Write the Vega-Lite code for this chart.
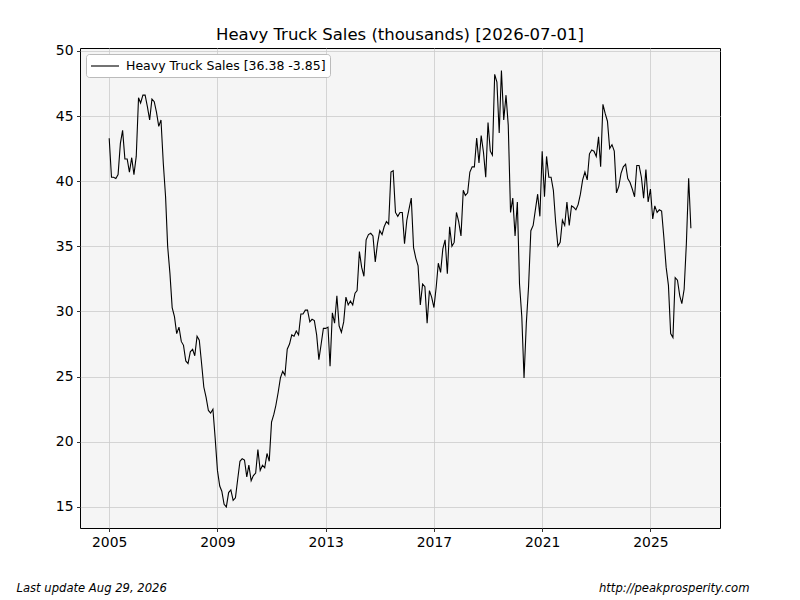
{
  "$schema": "https://vega.github.io/schema/vega-lite/v6.json",
  "description": "Heavy truck sales, monthly, in thousands (values read off the reference chart).",
  "width": 640,
  "height": 480,
  "autosize": "none",
  "padding": {"left": 80, "top": 48, "right": 80, "bottom": 72},
  "background": "white",
  "title": {
    "text": "Heavy Truck Sales (thousands) [2026-07-01]",
    "font": "DejaVu Sans",
    "fontSize": 16.5,
    "fontWeight": "normal",
    "color": "black",
    "offset": 0
  },
  "data": {
    "values": [
      {"d": "2005-01-01", "v": 43.3}, {"d": "2005-02-01", "v": 40.3}, {"d": "2005-03-01", "v": 40.3}, {"d": "2005-04-01", "v": 40.2},
      {"d": "2005-05-01", "v": 40.5}, {"d": "2005-06-01", "v": 42.9}, {"d": "2005-07-01", "v": 43.9}, {"d": "2005-08-01", "v": 41.7},
      {"d": "2005-09-01", "v": 41.7}, {"d": "2005-10-01", "v": 40.7}, {"d": "2005-11-01", "v": 41.8}, {"d": "2005-12-01", "v": 40.5},
      {"d": "2006-01-01", "v": 41.9}, {"d": "2006-02-01", "v": 46.4}, {"d": "2006-03-01", "v": 46.0}, {"d": "2006-04-01", "v": 46.6},
      {"d": "2006-05-01", "v": 46.6}, {"d": "2006-06-01", "v": 45.7}, {"d": "2006-07-01", "v": 44.7}, {"d": "2006-08-01", "v": 46.3},
      {"d": "2006-09-01", "v": 46.1}, {"d": "2006-10-01", "v": 45.3}, {"d": "2006-11-01", "v": 44.2}, {"d": "2006-12-01", "v": 44.7},
      {"d": "2007-01-01", "v": 41.4}, {"d": "2007-02-01", "v": 38.8}, {"d": "2007-03-01", "v": 35.0}, {"d": "2007-04-01", "v": 32.9},
      {"d": "2007-05-01", "v": 30.3}, {"d": "2007-06-01", "v": 29.6}, {"d": "2007-07-01", "v": 28.3}, {"d": "2007-08-01", "v": 28.8},
      {"d": "2007-09-01", "v": 27.7}, {"d": "2007-10-01", "v": 27.4}, {"d": "2007-11-01", "v": 26.2}, {"d": "2007-12-01", "v": 26.0},
      {"d": "2008-01-01", "v": 26.9}, {"d": "2008-02-01", "v": 27.1}, {"d": "2008-03-01", "v": 26.6}, {"d": "2008-04-01", "v": 28.1},
      {"d": "2008-05-01", "v": 27.8}, {"d": "2008-06-01", "v": 26.0}, {"d": "2008-07-01", "v": 24.2}, {"d": "2008-08-01", "v": 23.4},
      {"d": "2008-09-01", "v": 22.4}, {"d": "2008-10-01", "v": 22.2}, {"d": "2008-11-01", "v": 22.5}, {"d": "2008-12-01", "v": 20.3},
      {"d": "2009-01-01", "v": 17.8}, {"d": "2009-02-01", "v": 16.6}, {"d": "2009-03-01", "v": 16.2}, {"d": "2009-04-01", "v": 15.2},
      {"d": "2009-05-01", "v": 15.0}, {"d": "2009-06-01", "v": 16.1}, {"d": "2009-07-01", "v": 16.3}, {"d": "2009-08-01", "v": 15.5},
      {"d": "2009-09-01", "v": 15.7}, {"d": "2009-10-01", "v": 17.1}, {"d": "2009-11-01", "v": 18.5}, {"d": "2009-12-01", "v": 18.7},
      {"d": "2010-01-01", "v": 18.6}, {"d": "2010-02-01", "v": 17.3}, {"d": "2010-03-01", "v": 18.2}, {"d": "2010-04-01", "v": 17.0},
      {"d": "2010-05-01", "v": 17.4}, {"d": "2010-06-01", "v": 17.6}, {"d": "2010-07-01", "v": 19.4}, {"d": "2010-08-01", "v": 17.8},
      {"d": "2010-09-01", "v": 18.2}, {"d": "2010-10-01", "v": 18.0}, {"d": "2010-11-01", "v": 19.1}, {"d": "2010-12-01", "v": 18.5},
      {"d": "2011-01-01", "v": 21.5}, {"d": "2011-02-01", "v": 22.1}, {"d": "2011-03-01", "v": 22.8}, {"d": "2011-04-01", "v": 23.8},
      {"d": "2011-05-01", "v": 24.9}, {"d": "2011-06-01", "v": 25.4}, {"d": "2011-07-01", "v": 25.1}, {"d": "2011-08-01", "v": 27.1},
      {"d": "2011-09-01", "v": 27.5}, {"d": "2011-10-01", "v": 28.2}, {"d": "2011-11-01", "v": 28.1}, {"d": "2011-12-01", "v": 28.5},
      {"d": "2012-01-01", "v": 28.2}, {"d": "2012-02-01", "v": 29.8}, {"d": "2012-03-01", "v": 29.8}, {"d": "2012-04-01", "v": 30.1},
      {"d": "2012-05-01", "v": 30.1}, {"d": "2012-06-01", "v": 29.2}, {"d": "2012-07-01", "v": 29.4}, {"d": "2012-08-01", "v": 29.3},
      {"d": "2012-09-01", "v": 28.2}, {"d": "2012-10-01", "v": 26.3}, {"d": "2012-11-01", "v": 27.5}, {"d": "2012-12-01", "v": 28.7},
      {"d": "2013-01-01", "v": 28.7}, {"d": "2013-02-01", "v": 28.8}, {"d": "2013-03-01", "v": 25.8}, {"d": "2013-04-01", "v": 29.9},
      {"d": "2013-05-01", "v": 29.1}, {"d": "2013-06-01", "v": 31.2}, {"d": "2013-07-01", "v": 28.9}, {"d": "2013-08-01", "v": 28.4},
      {"d": "2013-09-01", "v": 29.2}, {"d": "2013-10-01", "v": 31.1}, {"d": "2013-11-01", "v": 30.5}, {"d": "2013-12-01", "v": 30.8},
      {"d": "2014-01-01", "v": 30.5}, {"d": "2014-02-01", "v": 31.4}, {"d": "2014-03-01", "v": 31.6}, {"d": "2014-04-01", "v": 34.6},
      {"d": "2014-05-01", "v": 33.4}, {"d": "2014-06-01", "v": 32.7}, {"d": "2014-07-01", "v": 35.5}, {"d": "2014-08-01", "v": 35.9},
      {"d": "2014-09-01", "v": 36.0}, {"d": "2014-10-01", "v": 35.8}, {"d": "2014-11-01", "v": 33.8}, {"d": "2014-12-01", "v": 35.2},
      {"d": "2015-01-01", "v": 36.2}, {"d": "2015-02-01", "v": 35.9}, {"d": "2015-03-01", "v": 36.5}, {"d": "2015-04-01", "v": 36.9},
      {"d": "2015-05-01", "v": 36.7}, {"d": "2015-06-01", "v": 40.7}, {"d": "2015-07-01", "v": 40.8}, {"d": "2015-08-01", "v": 37.6},
      {"d": "2015-09-01", "v": 37.3}, {"d": "2015-10-01", "v": 37.6}, {"d": "2015-11-01", "v": 37.6}, {"d": "2015-12-01", "v": 35.2},
      {"d": "2016-01-01", "v": 37.0}, {"d": "2016-02-01", "v": 37.9}, {"d": "2016-03-01", "v": 38.7}, {"d": "2016-04-01", "v": 34.9},
      {"d": "2016-05-01", "v": 34.1}, {"d": "2016-06-01", "v": 33.5}, {"d": "2016-07-01", "v": 30.5}, {"d": "2016-08-01", "v": 32.1},
      {"d": "2016-09-01", "v": 31.9}, {"d": "2016-10-01", "v": 29.1}, {"d": "2016-11-01", "v": 31.6}, {"d": "2016-12-01", "v": 31.1},
      {"d": "2017-01-01", "v": 30.3}, {"d": "2017-02-01", "v": 31.9}, {"d": "2017-03-01", "v": 33.7}, {"d": "2017-04-01", "v": 33.0},
      {"d": "2017-05-01", "v": 34.8}, {"d": "2017-06-01", "v": 35.5}, {"d": "2017-07-01", "v": 32.9}, {"d": "2017-08-01", "v": 36.5},
      {"d": "2017-09-01", "v": 35.0}, {"d": "2017-10-01", "v": 35.3}, {"d": "2017-11-01", "v": 37.6}, {"d": "2017-12-01", "v": 36.9},
      {"d": "2018-01-01", "v": 35.8}, {"d": "2018-02-01", "v": 39.3}, {"d": "2018-03-01", "v": 38.9}, {"d": "2018-04-01", "v": 39.1},
      {"d": "2018-05-01", "v": 40.7}, {"d": "2018-06-01", "v": 41.1}, {"d": "2018-07-01", "v": 41.1}, {"d": "2018-08-01", "v": 43.3},
      {"d": "2018-09-01", "v": 41.4}, {"d": "2018-10-01", "v": 43.5}, {"d": "2018-11-01", "v": 42.2}, {"d": "2018-12-01", "v": 40.3},
      {"d": "2019-01-01", "v": 44.5}, {"d": "2019-02-01", "v": 42.3}, {"d": "2019-03-01", "v": 42.0}, {"d": "2019-04-01", "v": 48.2},
      {"d": "2019-05-01", "v": 47.6}, {"d": "2019-06-01", "v": 43.7}, {"d": "2019-07-01", "v": 48.5}, {"d": "2019-08-01", "v": 44.7},
      {"d": "2019-09-01", "v": 46.6}, {"d": "2019-10-01", "v": 44.3}, {"d": "2019-11-01", "v": 37.6}, {"d": "2019-12-01", "v": 38.7},
      {"d": "2020-01-01", "v": 35.8}, {"d": "2020-02-01", "v": 38.4}, {"d": "2020-03-01", "v": 32.1}, {"d": "2020-04-01", "v": 29.6},
      {"d": "2020-05-01", "v": 24.9}, {"d": "2020-06-01", "v": 29.1}, {"d": "2020-07-01", "v": 31.9}, {"d": "2020-08-01", "v": 36.2},
      {"d": "2020-09-01", "v": 36.6}, {"d": "2020-10-01", "v": 37.8}, {"d": "2020-11-01", "v": 39.0}, {"d": "2020-12-01", "v": 37.3},
      {"d": "2021-01-01", "v": 42.3}, {"d": "2021-02-01", "v": 38.8}, {"d": "2021-03-01", "v": 41.9}, {"d": "2021-04-01", "v": 40.3},
      {"d": "2021-05-01", "v": 40.3}, {"d": "2021-06-01", "v": 39.3}, {"d": "2021-07-01", "v": 36.9}, {"d": "2021-08-01", "v": 35.0},
      {"d": "2021-09-01", "v": 35.3}, {"d": "2021-10-01", "v": 37.0}, {"d": "2021-11-01", "v": 36.6}, {"d": "2021-12-01", "v": 38.4},
      {"d": "2022-01-01", "v": 36.6}, {"d": "2022-02-01", "v": 38.1}, {"d": "2022-03-01", "v": 38.0}, {"d": "2022-04-01", "v": 37.8},
      {"d": "2022-05-01", "v": 38.2}, {"d": "2022-06-01", "v": 39.0}, {"d": "2022-07-01", "v": 40.1}, {"d": "2022-08-01", "v": 40.7},
      {"d": "2022-09-01", "v": 40.1}, {"d": "2022-10-01", "v": 42.1}, {"d": "2022-11-01", "v": 42.4}, {"d": "2022-12-01", "v": 42.3},
      {"d": "2023-01-01", "v": 41.9}, {"d": "2023-02-01", "v": 43.4}, {"d": "2023-03-01", "v": 41.1}, {"d": "2023-04-01", "v": 45.9},
      {"d": "2023-05-01", "v": 45.2}, {"d": "2023-06-01", "v": 44.6}, {"d": "2023-07-01", "v": 42.5}, {"d": "2023-08-01", "v": 42.8},
      {"d": "2023-09-01", "v": 42.3}, {"d": "2023-10-01", "v": 39.1}, {"d": "2023-11-01", "v": 39.6}, {"d": "2023-12-01", "v": 40.6},
      {"d": "2024-01-01", "v": 41.1}, {"d": "2024-02-01", "v": 41.3}, {"d": "2024-03-01", "v": 40.2}, {"d": "2024-04-01", "v": 39.9},
      {"d": "2024-05-01", "v": 39.4}, {"d": "2024-06-01", "v": 38.8}, {"d": "2024-07-01", "v": 41.2}, {"d": "2024-08-01", "v": 41.2},
      {"d": "2024-09-01", "v": 40.3}, {"d": "2024-10-01", "v": 38.7}, {"d": "2024-11-01", "v": 40.9}, {"d": "2024-12-01", "v": 38.4},
      {"d": "2025-01-01", "v": 39.4}, {"d": "2025-02-01", "v": 37.1}, {"d": "2025-03-01", "v": 38.1}, {"d": "2025-04-01", "v": 37.6},
      {"d": "2025-05-01", "v": 37.8}, {"d": "2025-06-01", "v": 37.7}, {"d": "2025-07-01", "v": 35.7}, {"d": "2025-08-01", "v": 33.4},
      {"d": "2025-09-01", "v": 32.0}, {"d": "2025-10-01", "v": 28.3}, {"d": "2025-11-01", "v": 28.0}, {"d": "2025-12-01", "v": 32.6},
      {"d": "2026-01-01", "v": 32.4}, {"d": "2026-02-01", "v": 31.2}, {"d": "2026-03-01", "v": 30.6}, {"d": "2026-04-01", "v": 31.7},
      {"d": "2026-05-01", "v": 35.2}, {"d": "2026-06-01", "v": 40.23}, {"d": "2026-07-01", "v": 36.38}
    ]
  },
  "encoding": {
    "x": {
      "field": "d",
      "type": "temporal",
      "scale": {"domain": [{"year": 2003, "month": 12, "date": 4}, {"year": 2027, "month": 7, "date": 29}]},
      "axis": {
        "values": [
          {"year": 2005, "month": 1, "date": 1}, {"year": 2009, "month": 1, "date": 1}, {"year": 2013, "month": 1, "date": 1},
          {"year": 2017, "month": 1, "date": 1}, {"year": 2021, "month": 1, "date": 1}, {"year": 2025, "month": 1, "date": 1}
        ],
        "format": "%Y",
        "labelFlush": false,
        "title": "Last update Aug 29, 2026",
        "titleX": -64,
        "titleY": 63,
        "titleAlign": "left",
        "titleBaseline": "alphabetic",
        "titleFontStyle": "italic",
        "titleFontWeight": "normal",
        "titleFontSize": 11.6
      }
    }
  },
  "layer": [
    {
      "mark": {"type": "line", "strokeWidth": 1.1, "interpolate": "linear"},
      "encoding": {
        "y": {
          "field": "v",
          "type": "quantitative",
          "scale": {"domain": [13.38, 50.22], "zero": false, "nice": false},
          "axis": {"values": [15, 20, 25, 30, 35, 40, 45, 50], "title": null}
        },
        "color": {
          "datum": "Heavy Truck Sales [36.38 -3.85]",
          "type": "nominal",
          "scale": {"range": ["black"]},
          "legend": {
            "title": null,
            "orient": "top-left",
            "offset": 6,
            "symbolType": "M-1,0H3",
            "symbolSize": 196,
            "symbolStrokeWidth": 1.1,
            "labelFont": "DejaVu Sans",
            "labelFontSize": 12.5,
            "labelColor": "black",
            "labelOffset": 20,
            "labelLimit": 400,
            "fillColor": "white",
            "strokeColor": "#bbbbbb",
            "cornerRadius": 3,
            "padding": 4
          }
        }
      }
    },
    {
      "mark": {"type": "line", "opacity": 0},
      "encoding": {
        "y": {
          "field": "v",
          "type": "quantitative",
          "axis": {
            "orient": "right",
            "labels": false,
            "ticks": false,
            "domain": false,
            "grid": false,
            "title": "http://peakprosperity.com",
            "titleAngle": 0,
            "titleX": 29,
            "titleY": 543,
            "titleAlign": "right",
            "titleBaseline": "alphabetic",
            "titleFontStyle": "italic",
            "titleFontWeight": "normal",
            "titleFontSize": 11.6
          }
        }
      }
    }
  ],
  "resolve": {"axis": {"y": "independent"}},
  "config": {
    "font": "DejaVu Sans",
    "view": {"stroke": "black", "strokeWidth": 1, "fill": "#f5f5f5"},
    "axis": {
      "domain": false,
      "grid": true,
      "gridColor": "#cccccc",
      "gridWidth": 0.8,
      "ticks": true,
      "tickColor": "black",
      "tickSize": 3.5,
      "tickWidth": 0.8,
      "labelFont": "DejaVu Sans",
      "labelFontSize": 13.9,
      "labelColor": "black",
      "labelPadding": 3.5,
      "titleFont": "DejaVu Sans",
      "titleColor": "black"
    }
  }
}
